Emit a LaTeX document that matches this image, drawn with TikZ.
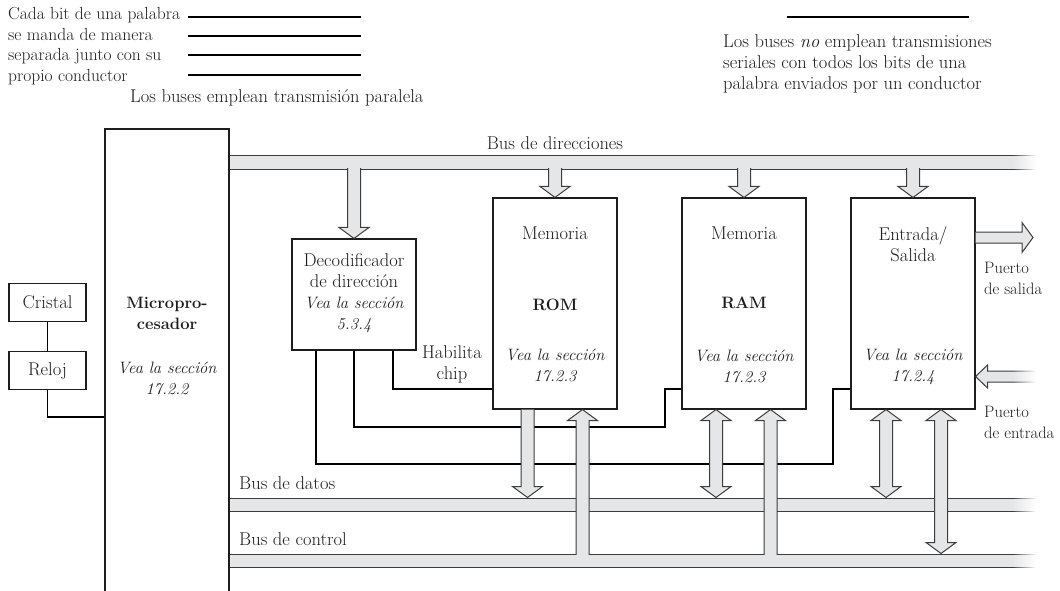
\documentclass[tikz,border=0pt]{standalone}
\usepackage{fontspec}
\usepackage{tikz}
\usetikzlibrary{calc, fadings}
\definecolor{BusGray}{RGB}{229,230,232}
\definecolor{EdgeGray}{RGB}{60,60,60}
\definecolor{InkBlack}{RGB}{30,28,28}

\begin{document}
\begin{tikzpicture}[x=1pt, y=-1pt,
      every node/.style={font=\fontsize{18.5}{21}\selectfont, text=InkBlack},
      txtb/.style={font=\fontsize{16.5}{21}\selectfont\bfseries, align=center},
      txti/.style={font=\fontsize{16.5}{21}\selectfont\itshape, align=center},
      txts/.style={font=\fontsize{16.5}{21}\selectfont, align=left},
      blk/.style={draw=InkBlack, line width=1.1pt, fill=white, inner sep=0pt},
      busbar/.style={draw=EdgeGray, line width=1pt, fill=BusGray, inner sep=0pt,
                     minimum width=811pt, minimum height=13pt},
      fatarrow/.style={draw=EdgeGray, line width=1pt, fill=BusGray, line join=miter},
      wire/.style={draw=black, line width=1.6pt},
      rulebar/.style={draw=black, line width=2.2pt}
    ]
    \useasboundingbox (0,0) rectangle (1060,591);
    \clip (0,0) rectangle (1060,591);

    % lineas de la parte de arriba
    \node[anchor=west, align=left, inner sep=0pt, font=\fontsize{17.5}{20.7}\selectfont]
          (cadabit) at (8,46)
          {Cada bit de una palabra\\se manda de manera\\separada junto con su\\propio conductor};
    \foreach \y in {17,36,55,75}
      \draw[rulebar] (188,\y) -- (361,\y);
    \node[anchor=west, inner sep=0pt] (paralela) at (130,98)
          {Los buses emplean transmisión paralela};
    \draw[rulebar] (787,17) -- (969,17);
    \node[anchor=west, align=left, inner sep=0pt] (serial) at (723,63.5)
          {Los buses \textit{no} emplean transmisiones\\seriales con todos los bits de una\\palabra enviados por un conductor};

    % buses
    \node[busbar] (abus) at (634.5,162.5) {};
    \node[busbar] (dbus) at (634.5,504.5) {};
    \node[busbar] (cbus) at (634.5,560.5) {};

    % bloques
    \node[blk, minimum width=124pt, minimum height=531pt] (micro) at (167,394.5) {};
    \node[blk, minimum width=77pt, minimum height=38pt] (cristal) at (47.5,302.5) {Cristal};
    \node[blk, minimum width=77pt, minimum height=38pt] (reloj) at (47.5,370.5) {Reloj};
    \node[blk, minimum width=124pt, minimum height=111pt] (deco) at (354,294.5) {};
    \node[blk, minimum width=124pt, minimum height=211pt] (rom) at (555,303.5) {};
    \node[blk, minimum width=124pt, minimum height=211pt] (ram) at (744,303.5) {};
    \node[blk, minimum width=124pt, minimum height=211pt] (es) at (913,303.5) {};

    % conexiones
    \coordinate (clk) at (0,417);
    \coordinate (hab) at (0,389);
    \draw[wire] (cristal) -- (reloj);
    \draw[wire] (reloj.south) |- (micro.west |- clk);
    \draw[wire] ([xshift=39pt]deco.south) |- (rom.west |- hab);
    \draw[wire] (deco.south) |- (665,427) |- (ram.west |- hab);
    \draw[wire] ([xshift=-38pt]deco.south) |- (833,464) |- (es.west |- hab);

    \foreach \b in {deco, rom, ram, es}
      \filldraw[fatarrow] let \p1=(\b.north), \p2=(abus.center) in
        (\x1-6.5pt,\y2) -- (\x1-6.5pt,\y1+11pt) -- (\x1-15pt,\y1+11pt) -- (\p1)
        -- (\x1+15pt,\y1+11pt) -- (\x1+6.5pt,\y1+11pt) -- (\x1+6.5pt,\y2);

    \filldraw[fatarrow] let \p1=([xshift=-27.5pt]rom.south), \p2=(dbus.north) in
      (\x1-6.5pt,\y1) -- (\x1-6.5pt,\y2+11pt) -- (\x1-15pt,\y2+11pt) -- (\x1,\y2)
      -- (\x1+15pt,\y2+11pt) -- (\x1+6.5pt,\y2+11pt) -- (\x1+6.5pt,\y1);

    \foreach \b/\dx/\bus in {ram/-28pt/dbus, es/-27pt/dbus, es/28pt/cbus}
      \filldraw[fatarrow] let \p1=([xshift=\dx]\b.south), \p2=(\bus.north) in
        (\x1-6.5pt,\y1-11pt) -- (\x1-15pt,\y1-11pt) -- (\p1) -- (\x1+15pt,\y1-11pt)
        -- (\x1+6.5pt,\y1-11pt) -- (\x1+6.5pt,\y2+11pt) -- (\x1+15pt,\y2+11pt)
        -- (\x1,\y2) -- (\x1-15pt,\y2+11pt) -- (\x1-6.5pt,\y2+11pt) -- cycle;

    \foreach \b/\dx in {rom/27.5pt, ram/26.5pt}
      \filldraw[fatarrow] let \p1=([xshift=\dx]\b.south), \p2=(cbus.center) in
        (\x1-6.5pt,\y2) -- (\x1-6.5pt,\y1-11pt) -- (\x1-15pt,\y1-11pt) -- (\p1)
        -- (\x1+15pt,\y1-11pt) -- (\x1+6.5pt,\y1-11pt) -- (\x1+6.5pt,\y2);

    \coordinate (psal) at (1033,237.5);
    \coordinate (pent) at (1040,376.5);
    \filldraw[fatarrow] let \p1=(es.east |- psal), \p2=(psal) in
      (\x1,\y1+5.5pt) -- (\x2-11pt,\y1+5.5pt) -- (\x2-11pt,\y1+15pt) -- (\p2)
      -- (\x2-11pt,\y1-15pt) -- (\x2-11pt,\y1-5.5pt) -- (\x1,\y1-5.5pt);
    \filldraw[fatarrow] let \p1=(es.east |- pent), \p2=(pent) in
      (\x2,\y1+5.5pt) -- (\x1+12pt,\y1+5.5pt) -- (\x1+12pt,\y1+11.5pt) -- (\p1)
      -- (\x1+12pt,\y1-11.5pt) -- (\x1+12pt,\y1-5.5pt) -- (\x2,\y1-5.5pt);

    \foreach \b in {abus, cbus}
      \fill[BusGray] ([shift={(1.1pt,-1.1pt)}]\b.north west)
                     rectangle ([shift={(-1.1pt,1.1pt)}]\b.south east);

    \foreach \ya/\yb in {148/177, 362/392, 490/575}{
      \fill[white, path fading=west] (1012,\ya) rectangle (1036,\yb);
      \fill[white] (1036,\ya) rectangle (1062,\yb);
    }

    % textos
    \node[txtb] (microt) at (167,313) {Micropro-\\cesador};
    \node[txti] (microv) at (167,378.5) {Vea la sección\\17.2.2};
    \node[align=center] (decot) at (354,293)
          {Decodificador\\de dirección\\{\fontsize{16.5}{21}\selectfont\itshape Vea la sección}\\{\fontsize{16.5}{21}\selectfont\itshape 5.3.4}};
    \node (romm) at (555,233) {Memoria};
    \node[txtb] (romt) at (555,305) {ROM};
    \node[txti] (romv) at (555,365.5) {Vea la sección\\17.2.3};
    \node (ramm) at (744,233) {Memoria};
    \node[txtb] (ramt) at (744,303) {RAM};
    \node[txti] (ramv) at (744,366) {Vea la sección\\17.2.3};
    \node[align=center] (est) at (913,244) {Entrada/\\Salida};
    \node[txti] (esv) at (913,366.5) {Vea la sección\\17.2.4};

    \node (abusl) at (555,143) {Bus de direcciones};
    \node[anchor=west, inner sep=0pt] (dbusl) at (239,483) {Bus de datos};
    \node[anchor=west, inner sep=0pt] (cbusl) at (239,539) {Bus de control};
    \node[align=center] (habl) at (452,364) {Habilita\\chip};
    \node[txts, anchor=west, inner sep=0pt] (psall) at (984,278) {Puerto\\de salida};
    \node[txts, anchor=west, inner sep=0pt] (pentl) at (984,422) {Puerto\\de entrada};
  \end{tikzpicture}
\end{document}
